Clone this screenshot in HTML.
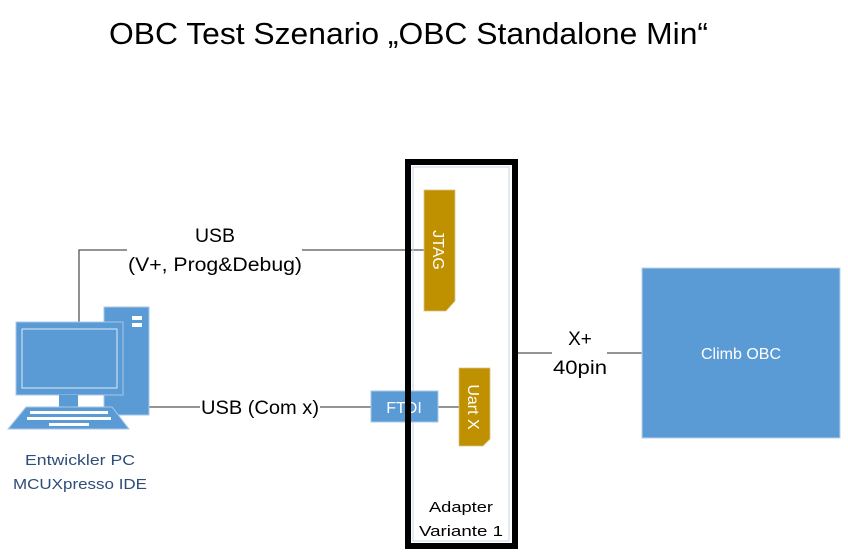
<!DOCTYPE html>
<html><head><meta charset="utf-8"><style>
html,body{margin:0;padding:0;background:#fff;}
svg{display:block;font-family:"Liberation Sans",sans-serif;}
</style></head><body>
<svg width="848" height="560" viewBox="0 0 848 560" xmlns="http://www.w3.org/2000/svg">
<rect width="848" height="560" fill="#fff"/>
<text x="109" y="44" font-size="31" fill="#000" textLength="599" lengthAdjust="spacingAndGlyphs">OBC Test Szenario „OBC Standalone Min“</text>

<g stroke="#555" stroke-width="1.3" fill="none">
<polyline points="79,323 79,250 127,250"/>
<line x1="302" y1="250" x2="424" y2="250"/>
<line x1="149" y1="407" x2="200" y2="407"/>
<line x1="320" y1="407" x2="371" y2="407"/>
<line x1="438" y1="407" x2="459" y2="407"/>
<line x1="518" y1="353" x2="552" y2="353"/>
<line x1="607" y1="353" x2="642" y2="353"/>
</g>
<text x="215" y="242" font-size="19" text-anchor="middle" textLength="40" lengthAdjust="spacingAndGlyphs">USB</text>
<text x="215" y="271" font-size="19" text-anchor="middle" textLength="174" lengthAdjust="spacingAndGlyphs">(V+, Prog&amp;Debug)</text>
<text x="260" y="414" font-size="19" text-anchor="middle" textLength="118" lengthAdjust="spacingAndGlyphs">USB (Com x)</text>
<text x="580" y="345" font-size="19" text-anchor="middle">X+</text>
<text x="580" y="374" font-size="19" text-anchor="middle" textLength="54" lengthAdjust="spacingAndGlyphs">40pin</text>

<rect x="104" y="307" width="45" height="108" fill="#5b9bd5" stroke="#a9c7e8" stroke-width="1"/>
<rect x="132" y="316" width="10" height="4" fill="#fff"/>
<rect x="132" y="323" width="10" height="4" fill="#fff"/>
<rect x="16" y="322" width="107" height="73" fill="#5b9bd5" stroke="#a9c7e8" stroke-width="1"/>
<rect x="22" y="329" width="95" height="59" fill="#5b9bd5" stroke="#dde9f6" stroke-width="1"/>
<rect x="59" y="395" width="19" height="12" fill="#5b9bd5"/>
<polygon points="26,407 112,407 129,429 8,429" fill="#5b9bd5" stroke="#a9c7e8" stroke-width="1"/>
<g fill="#fff">
<rect x="30" y="411" width="78" height="3"/>
<rect x="27" y="417" width="84" height="3"/>
<rect x="49" y="423" width="40" height="3"/>
</g>
<text x="80" y="465" font-size="15" fill="#2e4d7a" text-anchor="middle" textLength="110" lengthAdjust="spacingAndGlyphs">Entwickler PC</text>
<text x="80" y="489" font-size="15" fill="#2e4d7a" text-anchor="middle" textLength="134" lengthAdjust="spacingAndGlyphs">MCUXpresso IDE</text>

<rect x="413" y="167" width="96" height="374" fill="none" stroke="#c8d6e8" stroke-width="1"/>
<rect x="408" y="162" width="107" height="384" fill="none" stroke="#000" stroke-width="6"/>

<polygon points="424,190 455,190 455,301 446,311 424,311" fill="#bf9000" stroke="#d9c48a" stroke-width="0.8"/>
<text x="0" y="0" font-size="16" fill="#fff" transform="translate(433,250) rotate(90)" text-anchor="middle">JTAG</text>
<polygon points="459,368 490,368 490,439 483,446 459,446" fill="#bf9000" stroke="#d9c48a" stroke-width="0.8"/>
<text x="0" y="0" font-size="16" fill="#fff" transform="translate(468,407) rotate(90)" text-anchor="middle">Uart X</text>
<rect x="371" y="391" width="67" height="31" fill="#5b9bd5" stroke="#a9c7e8" stroke-width="1"/>
<text x="404" y="413" font-size="16" fill="#fff" text-anchor="middle">FTDI</text>
<rect x="405" y="388" width="6" height="38" fill="#000"/>

<text x="461" y="512" font-size="15" text-anchor="middle" textLength="64" lengthAdjust="spacingAndGlyphs">Adapter</text>
<text x="461" y="536" font-size="15" text-anchor="middle" textLength="84" lengthAdjust="spacingAndGlyphs">Variante 1</text>

<rect x="642" y="268" width="198" height="170" fill="#5b9bd5" stroke="#bcd0e6" stroke-width="1"/>
<text x="741" y="359" font-size="16" fill="#fff" text-anchor="middle">Climb OBC</text>
</svg>
</body></html>
